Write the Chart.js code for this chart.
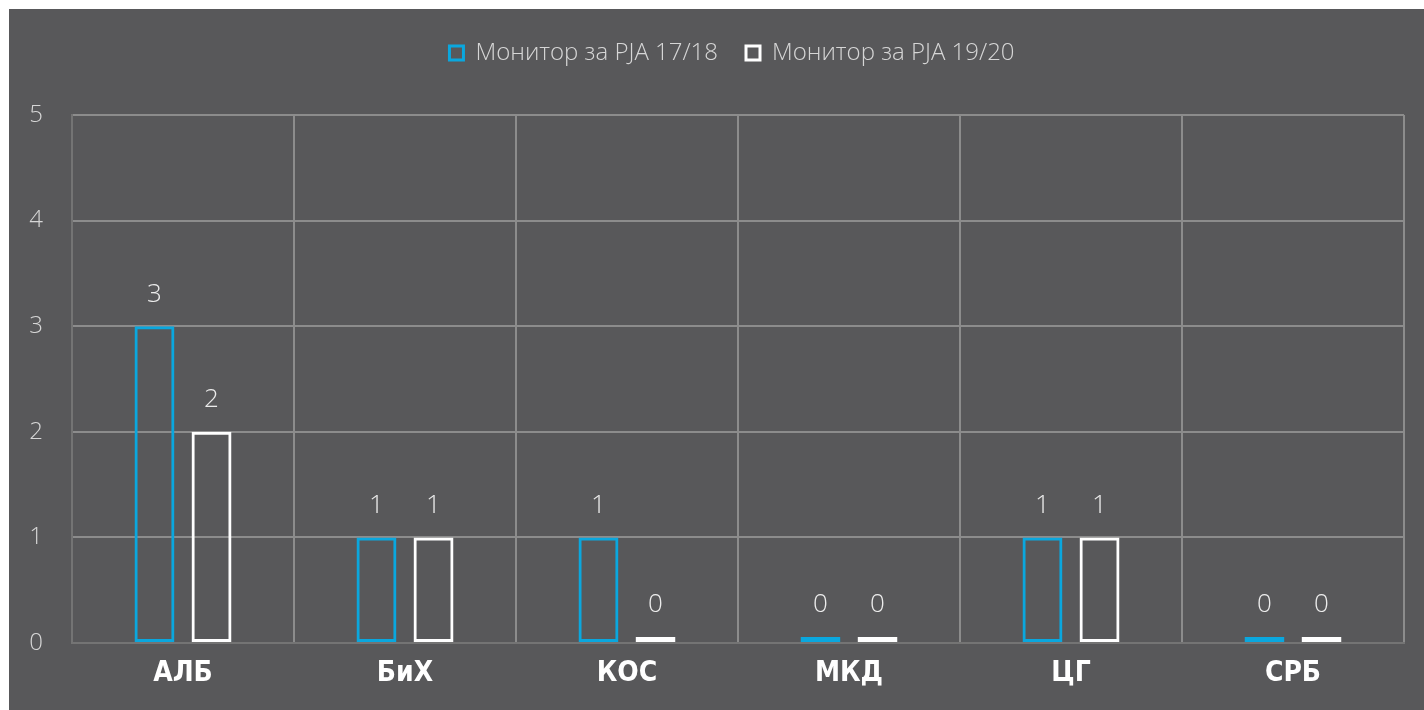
<!DOCTYPE html>
<html>
<head>
<meta charset="utf-8">
<script src="https://cdn.jsdelivr.net/npm/chart.js@4.4.1/dist/chart.umd.min.js"></script>
<style>
  html, body { margin: 0; padding: 0; background: #ffffff; }
  #wrap {
    position: absolute; left: 9px; top: 9px;
    width: 1415px; height: 701px;
    background: #58585a;
  }
  canvas { display: block; }
</style>
</head>
<body>
<div id="wrap"><canvas id="chart" width="1415" height="701"></canvas></div>
<script>
// категории и вредности
const categories = ['АЛБ', 'БиХ', 'КОС', 'МКД', 'ЦГ', 'СРБ'];
const monitor1718 = [3, 1, 1, 0, 1, 0];
const monitor1920 = [2, 1, 0, 0, 1, 0];
const seriesNames = ['Монитор за РЈА 17/18', 'Монитор за РЈА 19/20'];
const yTicks = [0, 1, 2, 3, 4, 5];

const BLUE = '#0aa7de';
const WHITE = '#ffffff';

// ознаки со вредности над столбовите
const valueLabels = {
  id: 'valueLabels',
  afterDatasetsDraw(chart) {
    const ctx = chart.ctx;
    ctx.save();
    ctx.font = '300 26px "Open Sans", sans-serif';
    ctx.fillStyle = '#ececec';
    ctx.textAlign = 'center';
    ctx.textBaseline = 'middle';
    chart.data.datasets.forEach((ds, i) => {
      const meta = chart.getDatasetMeta(i);
      meta.data.forEach((bar, j) => {
        ctx.fillText(String(ds.data[j]), bar.x, bar.y - 32);
      });
    });
    ctx.restore();
  }
};

// легендата: повеќе простор под неа и мало поместување надесно
const legendTweak = {
  id: 'legendTweak',
  beforeLayout(chart) {
    const lg = chart.legend;
    if (lg && !lg._patched) {
      const fit = lg.fit;
      lg.fit = function () {
        fit.call(this);
        this.height += 40;
      };
      const draw = lg.draw;
      lg.draw = function () {
        const ctx = this.ctx;
        ctx.save();
        ctx.translate(21, 0);
        draw.apply(this, arguments);
        ctx.restore();
      };
      lg._patched = true;
    }
  }
};

new Chart(document.getElementById('chart'), {
  type: 'bar',
  data: {
    labels: categories,
    datasets: [
      {
        label: seriesNames[0],
        data: monitor1718,
        backgroundColor: 'rgba(0,0,0,0)',
        borderColor: BLUE,
        borderWidth: 3,
        borderSkipped: false,
        minBarLength: 6,
        categoryPercentage: 0.514,
        barPercentage: 0.7
      },
      {
        label: seriesNames[1],
        data: monitor1920,
        backgroundColor: 'rgba(0,0,0,0)',
        borderColor: WHITE,
        borderWidth: 3,
        borderSkipped: false,
        minBarLength: 6,
        categoryPercentage: 0.514,
        barPercentage: 0.7
      }
    ]
  },
  options: {
    responsive: false,
    animation: false,
    layout: {
      padding: { top: 4, left: 9, right: 20, bottom: 0 }
    },
    plugins: {
      tooltip: { enabled: false },
      legend: {
        position: 'top',
        labels: {
          color: '#d6d6d6',
          font: { family: '"Open Sans", sans-serif', size: 24, weight: '300' },
          boxWidth: 14,
          boxHeight: 14,
          padding: 28
        }
      }
    },
    scales: {
      x: {
        grid: { color: '#8c8c8c', lineWidth: 2, drawTicks: false },
        border: { color: '#747474', width: 2 },
        ticks: {
          color: '#ffffff',
          padding: 14,
          font: { family: '"Liberation Sans Narrow", "DejaVu Sans Condensed", sans-serif', size: 28, weight: 'bold' }
        },
        afterFit(scale) { scale.height = 67; }
      },
      y: {
        min: 0,
        max: 5,
        afterBuildTicks(scale) {
          scale.ticks = yTicks.map(v => ({ value: v }));
        },
        grid: { color: '#8c8c8c', lineWidth: 2, drawTicks: false },
        border: { color: '#747474', width: 2 },
        ticks: {
          color: '#d6d6d6',
          padding: 29,
          font: { family: '"Open Sans", sans-serif', size: 24, weight: '300' }
        },
        afterFit(scale) { scale.width = 54; }
      }
    }
  },
  plugins: [valueLabels, legendTweak]
});
</script>
</body>
</html>
